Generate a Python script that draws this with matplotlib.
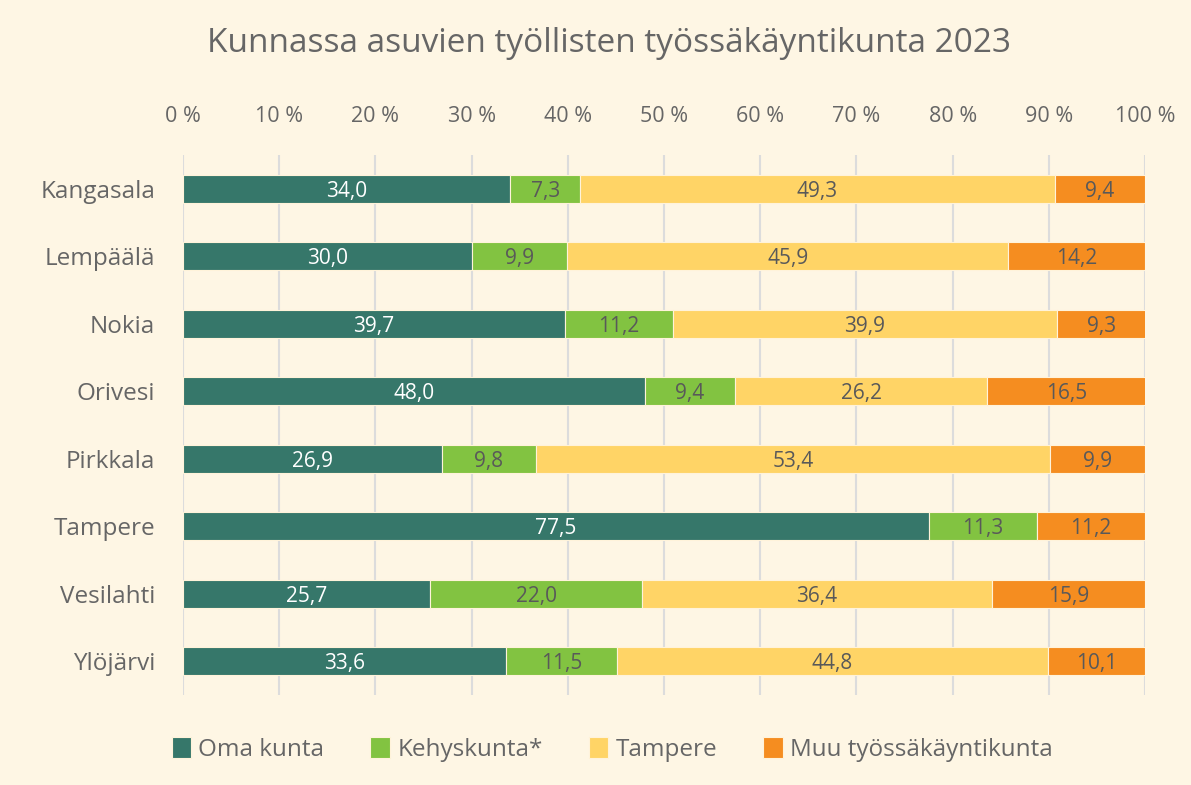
import numpy as np
import matplotlib.pyplot as plt

plt.rcParams['font.family'] = ['Open Sans', 'DejaVu Sans']

kunnat = ["Kangasala", "Lempäälä", "Nokia", "Orivesi", "Pirkkala",
          "Tampere", "Vesilahti", "Ylöjärvi"]
oma_kunta = [34.0, 30.0, 39.7, 48.0, 26.9, 77.5, 25.7, 33.6]
kehyskunta = [7.3, 9.9, 11.2, 9.4, 9.8, 11.3, 22.0, 11.5]
tampere = [49.3, 45.9, 39.9, 26.2, 53.4, 0.0, 36.4, 44.8]
muu = [9.4, 14.2, 9.3, 16.5, 9.9, 11.2, 15.9, 10.1]

sarjat = ["Oma kunta", "Kehyskunta*", "Tampere", "Muu työssäkäyntikunta"]
arvot = [oma_kunta, kehyskunta, tampere, muu]
varit = ["#36776A", "#82C341", "#FFD466", "#F58D20"]
tekstivarit = ["white", "#595959", "#595959", "#595959"]

bg = "#FEF6E4"
harmaa = "#666666"

fig = plt.figure(figsize=(11.91, 7.85), dpi=100, facecolor=bg)
ax = fig.add_axes([0.1537, 0.1146, 0.8077, 0.6879])
ax.set_facecolor(bg)

y = np.arange(len(kunnat))
left = np.zeros(len(kunnat))
for nimi, vals, c, tc in zip(sarjat, arvot, varit, tekstivarit):
    vals = np.array(vals)
    ax.barh(y, vals, left=left, height=0.41, color=c, label=nimi,
            edgecolor="#FFF3DA", linewidth=0.8, zorder=3)
    for yi, l, v in zip(y, left, vals):
        if v > 0:
            ax.text(l + v / 2, yi, f"{v:.1f}".replace(".", ","),
                    ha="center", va="center_baseline", color=tc, fontsize=15, zorder=4)
    left += vals

ax.set_xlim(0, 100)
ax.set_ylim(len(kunnat) - 0.5, -0.5)
ax.set_xticks(np.arange(0, 101, 10))
ax.set_xticklabels([f"{t} %" for t in range(0, 101, 10)])
ax.xaxis.tick_top()
ax.tick_params(axis="x", length=0, pad=20, labelsize=15.5, labelcolor=harmaa)
ax.set_yticks(y)
ax.set_yticklabels(kunnat)
ax.tick_params(axis="y", length=0, pad=20, labelsize=17.5, labelcolor=harmaa)
ax.grid(axis="x", color="#DCDCDC", linewidth=1.5, zorder=0)
for s in ax.spines.values():
    s.set_visible(False)

fig.suptitle("Kunnassa asuvien työllisten työssäkäyntikunta 2023", x=0.511, y=0.965,
             fontsize=24, color=harmaa)

fig.legend(loc="center", bbox_to_anchor=(0.514, 0.045), ncol=4, frameon=False,
           fontsize=17.5, labelcolor=harmaa, handlelength=0.8, handleheight=0.9,
           handletextpad=0.3, columnspacing=1.9)

fig.savefig("out.png", dpi=100, facecolor=bg)
